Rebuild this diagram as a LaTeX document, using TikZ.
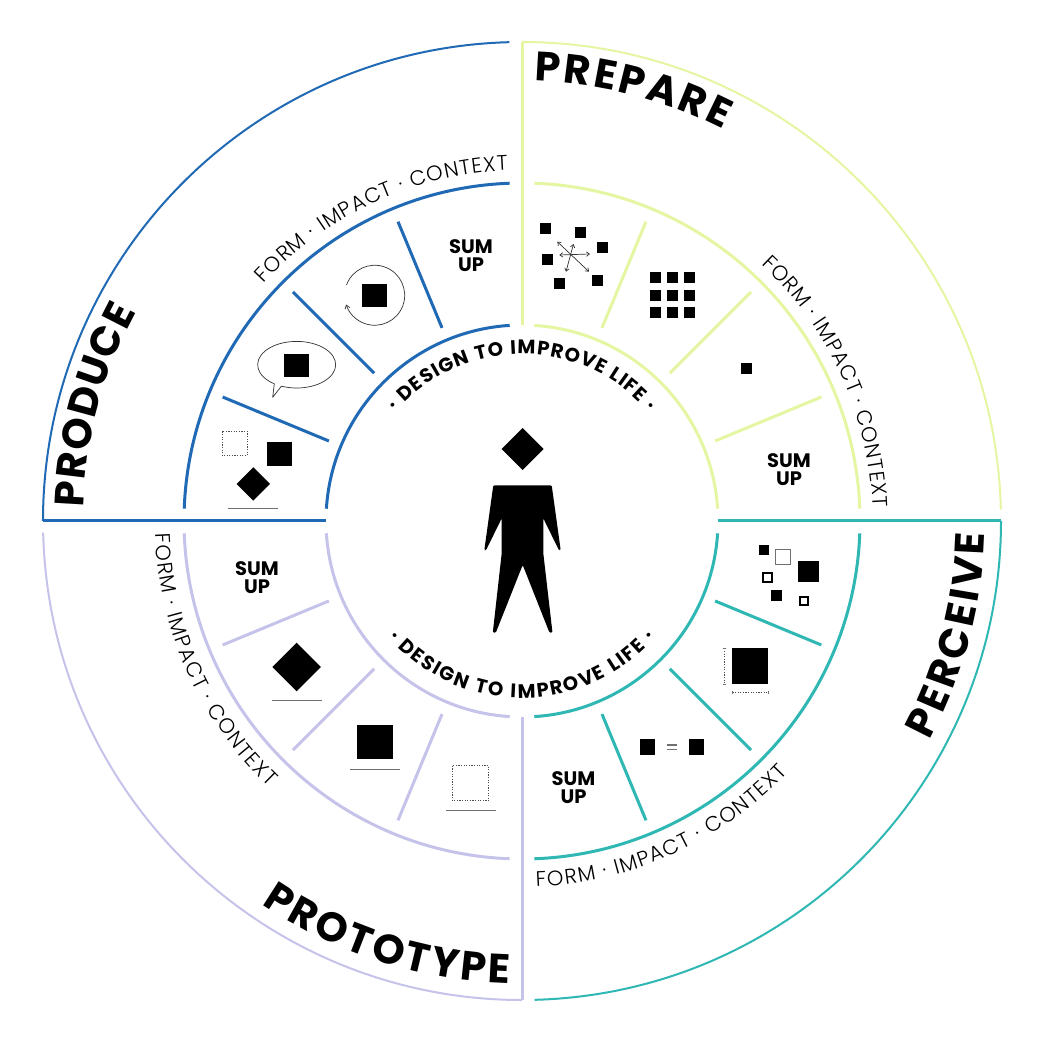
\documentclass[tikz,border=0pt]{standalone}
\usepackage{fontspec}
\usetikzlibrary{decorations.text,arrows.meta}
\setmainfont{Poppins}
\newfontfamily\lightfont{Poppins Light}
\definecolor{prep}{HTML}{E5F6A2}
\definecolor{perc}{HTML}{2FB8B3}
\definecolor{prot}{HTML}{C6C3EA}
\definecolor{prod}{HTML}{2069B4}
\definecolor{rule}{HTML}{707070}
\tikzset{
  ring/.style={line width=2pt},
  arcline/.style={line width=3pt},
  spoke/.style={line width=3pt},
  blk/.style={fill=black,draw=none},
  under/.style={rule,line width=.9pt},
  thin/.style={line width=.7pt,draw=black!80},
  bothbarb/.style={thin,{Straight Barb[length=3pt,width=4.5pt]}-{Straight Barb[length=3pt,width=4.5pt]}},
  dots/.style={line width=.9pt,draw=black!70,dash pattern=on 1.2pt off 1.4pt},
  sumup/.style={font=\fontsize{19.5}{18}\selectfont\bfseries,align=center,text depth=0pt},
}
\newcommand\arctext[5]{\path[decorate,decoration={text along path,text={|#4|#5},text align={fit to path}}] (#1:#3) arc[start angle=#1,end angle=#2,radius=#3];}
\newcommand\sqrblk[3]{\fill[blk] (#1-#3/2,#2-#3/2) rectangle (#1+#3/2,#2+#3/2);}
\newcommand\diam[3]{\fill[blk] (#1-#3,#2) -- (#1,#2-#3) -- (#1+#3,#2) -- (#1,#2+#3) -- cycle;}
\newcommand\titlefont{\fontsize{41}{41}\selectfont\bfseries}
\newcommand\wordfont{\fontsize{21}{21}\selectfont\lightfont}
\newcommand\mottofont{\fontsize{19.5}{20}\selectfont\bfseries}
\begin{document}
\begin{tikzpicture}[x=1pt,y=1pt]
\useasboundingbox[fill=white] (-522,-527) rectangle (526,521);
% outer frames
\draw[prep,ring] (90:479) arc[start angle=90,end angle=1.4,radius=479];
\draw[prep,arcline] (0,479) -- (0,196);
\draw[perc,ring] (0:479) arc[start angle=0,end angle=-88.5,radius=479];
\draw[perc,arcline] (479,0) -- (196,0);
\draw[prot,ring] (-90:479) arc[start angle=-90,end angle=-178.6,radius=479];
\draw[prot,arcline] (0,-479) -- (0,-196);
\draw[prod,ring] (180:479) arc[start angle=180,end angle=91.5,radius=479];
\draw[prod,arcline] (-479,0) -- (-196,0);
% inner arcs
\foreach \c/\q in {prep/0,perc/-90,prot/-180,prod/-270}{
  \begin{scope}[rotate=\q]
    \draw[\c,arcline] (87.9:338) arc[start angle=87.9,end angle=2.1,radius=338];
    \draw[\c,arcline] (86.4:196) arc[start angle=86.4,end angle=3.6,radius=196];
    \foreach \a in {67.5,45,22.5}{\draw[\c,spoke] (\a:209) -- (\a:324);}
  \end{scope}
}
% titles
\arctext{88.4}{62.8}{440}{\titlefont}{PREPARE}
\arctext{-28.3}{-1.5}{463}{\titlefont}{PERCEIVE}
\arctext{-124.2}{-91.5}{463}{\titlefont}{PROTOTYPE}
\arctext{178.3}{151.5}{439}{\titlefont}{PRODUCE}
% ring words
\arctext{47}{2.2}{351}{\wordfont}{FORM · IMPACT · CONTEXT}
\arctext{-87.8}{-43.4}{366}{\wordfont}{FORM · IMPACT · CONTEXT}
\arctext{182}{226.4}{367}{\wordfont}{FORM · IMPACT · CONTEXT}
\arctext{137.4}{92.3}{351}{\wordfont}{FORM · IMPACT · CONTEXT}
% motto
\arctext{139}{41}{167}{\mottofont}{· DESIGN TO IMPROVE LIFE ·}
\arctext{221}{319}{177}{\mottofont}{· DESIGN TO IMPROVE LIFE ·}
\begin{scope}[shift={(-522pt,521pt)},y=-1pt]
% sum up
\node[sumup] (sumprep) at (789,470) {SUM\\UP};
\node[sumup] (sumperc) at (573.5,788) {SUM\\UP};
\node[sumup] (sumprot) at (257,578) {SUM\\UP};
\node[sumup] (sumprod) at (471,256) {SUM\\UP};
% figure
\diam{522.7}{449}{21}
\fill[blk,rounded corners=1.2pt] (493.3,485.3) -- (551.7,485.3) -- (560.7,550.3) -- (559,550.3) -- (543.3,518.3) -- (543.3,553.3) -- (552.5,632.7) -- (549.5,632.7) -- (522.7,565) -- (495.8,632.7) -- (492.8,632.7) -- (501.7,553.3) -- (501.7,518.3) -- (486,550.3) -- (484.3,550.3) -- cycle;
% prepare icons
\foreach \x/\y in {545/229,580.7/232.3,602.3/247.7,547.7/260,559.3/283.7,597.3/281}{\sqrblk{\x}{\y}{11}}
\draw[bothbarb] (557.3,241.7) -- (589,271.7);
\draw[bothbarb] (573.5,244) -- (566,271.7);
\draw[bothbarb] (559.3,255) -- (590,254);
\foreach \x in {655.3,672,689}{\foreach \y in {277.7,295.3,313}{\sqrblk{\x}{\y}{11}}}
\sqrblk{746}{369}{11}
% perceive icons
\sqrblk{764}{550}{10}
\draw[rule,line width=.9pt] (775.7,549.7) rectangle (790.3,564.3);
\sqrblk{808.7}{572}{21}
\draw[black,line width=1.6pt] (762.9,573.3) rectangle (771.7,582.1);
\sqrblk{776.3}{595.3}{11.5}
\draw[black,line width=2.2pt] (800.3,597) rectangle (808.3,605);
\sqrblk{750.3}{666.3}{36}
\draw[dots] (724,648.3) -- (724,684.3);
\draw[dots] (732.3,692.7) -- (768.3,692.7);
\draw[rule,line width=.7pt] (722.5,648.3) -- (725.5,648.3) (722.5,684.3) -- (725.5,684.3) (732.3,691.2) -- (732.3,694.2) (768.3,691.2) -- (768.3,694.2);
\sqrblk{647.7}{747}{15.5}
\sqrblk{696.7}{747}{15.5}
\draw[rule,line width=1.1pt] (667,745) -- (677,745) (667,749.5) -- (677,749.5);
% prototype icons
\diam{296.7}{667}{24.3}
\draw[under] (271.7,700.3) -- (321.7,700.3);
\fill[blk] (357.3,725) rectangle (393,758.7);
\draw[under] (350.3,769) -- (399.7,769);
\draw[dots] (452.7,765.7) rectangle (488.7,800.7);
\draw[under] (446,810.3) -- (495.7,810.3);
% produce icons
\draw[dots] (222,431.5) rectangle (247.3,455.5);
\fill[blk] (267,442.3) rectangle (291.7,465.7);
\diam{253.3}{484}{16.7}
\draw[under] (228.3,508.7) -- (278.3,508.7);
\draw[thin,line join=round] (272.7,397.3) -- (274.3,383.8) arc[start angle=125,end angle=473,x radius=39,y radius=23.3] -- cycle;
\fill[blk] (283.7,354) rectangle (308.7,377.3);
\draw[thin,-{Straight Barb[length=3.5pt,width=5pt]}] (346.5,285) arc[start angle=200,end angle=522,radius=30];
\fill[blk] (362.3,283.7) rectangle (387,306.7);
\end{scope}
\end{tikzpicture}
\end{document}
